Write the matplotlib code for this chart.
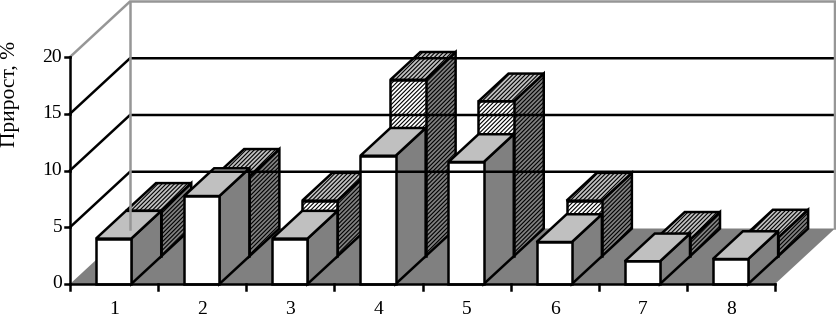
#!/usr/bin/env python3
"""Oblique 3D-style bar chart drawn with flat polygons."""
import matplotlib
matplotlib.use('Agg')
import matplotlib.pyplot as plt
from matplotlib.patches import Polygon

plt.rcParams['font.family'] = ['Liberation Serif', 'DejaVu Serif']
plt.rcParams['hatch.linewidth'] = 0.8

categories = ['1', '2', '3', '4', '5', '6', '7', '8']
front_values = [4.0, 7.75, 4.0, 11.3, 10.75, 3.7, 2.0, 2.2]
back_values = [4.0, 7.0, 4.9, 15.55, 13.65, 4.9, 1.45, 1.65]
y_ticks = [0, 5, 10, 15, 20]
y_label = 'Прирост, %'

W, H = 836, 317
X0, Y0 = 70, 284          # pixel position of the chart origin
CAT_PX = 88.125           # pixels per category
VAL_PX = 11.35            # pixels per percent
DEPTH_X = 60 / CAT_PX     # oblique shift of the full depth, in data units
DEPTH_Y = 55.5 / VAL_PX
BAR_LEFT = 0.295
BAR_W = 0.4
GRAY = '#808080'
LIGHT = '#c0c0c0'
WALL = '#969696'
LW = 1.8


def pt(x, y, d=0.0):
    # x in categories, y in percent, d in fraction of chart depth
    return (x + d * DEPTH_X, y + d * DEPTH_Y)


def draw_box(ax, left, value, d0, d1, front_c, side_c, top_c, hatch=None):
    right = left + BAR_W
    faces = [
        ([pt(right, 0, d0), pt(right, 0, d1), pt(right, value, d1), pt(right, value, d0)], side_c),
        ([pt(left, value, d0), pt(right, value, d0), pt(right, value, d1), pt(left, value, d1)], top_c),
        ([pt(left, 0, d0), pt(right, 0, d0), pt(right, value, d0), pt(left, value, d0)], front_c),
    ]
    for xy, color in faces:
        ax.add_patch(Polygon(xy, closed=True, facecolor=color, edgecolor='black',
                             linewidth=LW, hatch=hatch, joinstyle='miter'))


fig = plt.figure(figsize=(W / 100, H / 100), dpi=100)
ax = fig.add_axes([0, 0, 1, 1])
ax.set_xlim(-X0 / CAT_PX, (W - X0) / CAT_PX)
ax.set_ylim((Y0 - H) / VAL_PX, Y0 / VAL_PX)
ax.axis('off')

n = len(categories)

# floor
ax.add_patch(Polygon([pt(0, 0), pt(n, 0), pt(n, 0, 1), pt(0, 0, 1)], closed=True,
                     facecolor=GRAY, edgecolor='none'))

# gridlines on the side wall and the back wall
for t in y_ticks[1:-1]:
    xs, ys = zip(pt(0, t), pt(0, t, 1), pt(n, t, 1))
    ax.plot(xs, ys, color='black', linewidth=LW, solid_joinstyle='miter')

# wall outline
xs, ys = zip(pt(0, 20), pt(0, 20, 1), pt(n, 20, 1), pt(n, 0, 1))
ax.plot(xs, ys, color=WALL, linewidth=LW, solid_joinstyle='miter')
xs, ys = zip(pt(0, 0, 1), pt(0, 20, 1))
ax.plot(xs, ys, color=WALL, linewidth=LW)

# bars, rear row first inside each category
for i in range(n):
    left = i + BAR_LEFT
    draw_box(ax, left, back_values[i], 0.5, 1.0, 'white', GRAY, LIGHT, hatch='////////')
    draw_box(ax, left, front_values[i], 0.0, 0.5, 'white', GRAY, LIGHT)

# axes
ax.plot([0, n], [0, 0], color='black', linewidth=LW, solid_capstyle='projecting')
ax.plot([0, 0], [0, 20], color='black', linewidth=LW, solid_capstyle='projecting')
for i in range(n + 1):
    ax.plot([i, i], [0, -6 / VAL_PX], color='black', linewidth=LW)
for t in y_ticks:
    ax.plot([-5 / CAT_PX, 0], [t, t], color='black', linewidth=LW)
    ax.text(-8 / CAT_PX, t, str(t), ha='right', va='center', fontsize=14)
for i, label in enumerate(categories):
    ax.text(i + 0.5, -25.5 / VAL_PX, label, ha='center', va='center', fontsize=14)
ax.text(-59 / CAT_PX, 190 / VAL_PX, y_label, rotation=90, ha='center', va='center', fontsize=15.5)

fig.savefig('out.png', dpi=100)
plt.close(fig)
